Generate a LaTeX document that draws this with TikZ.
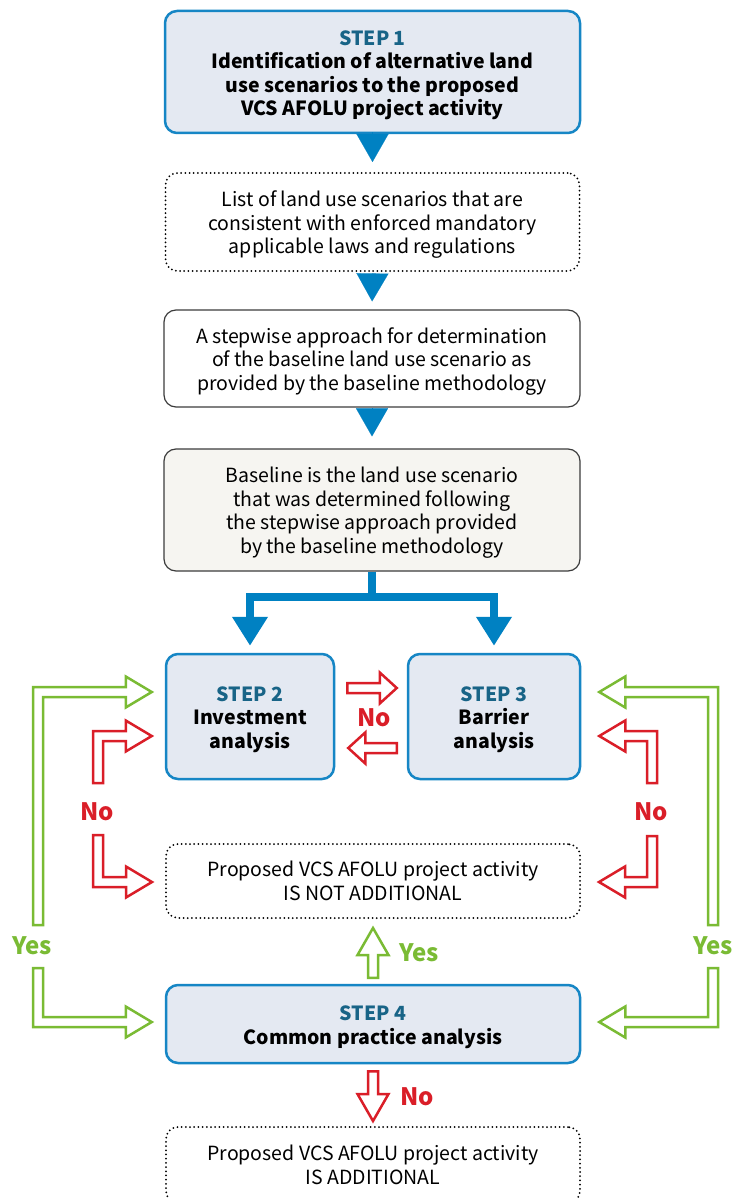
\documentclass[tikz,border=0pt]{standalone}
\usepackage{fontspec}
\setmainfont{Noto Sans CJK KR}
\usetikzlibrary{positioning,calc,arrows.meta}

\definecolor{stepblue}{RGB}{22,134,197}
\definecolor{stepfill}{RGB}{228,233,242}
\definecolor{steptitle}{RGB}{24,100,135}
\definecolor{flowblue}{RGB}{0,129,194}
\definecolor{noRed}{RGB}{218,30,40}
\definecolor{yesGreen}{RGB}{122,187,52}
\definecolor{baseFill}{RGB}{246,245,241}
\definecolor{boxGrey}{RGB}{60,60,60}

\newcommand{\bodyfont}{\fontsize{19.5}{23.5}\selectfont}
\newcommand{\labelfont}{\fontsize{24}{24}\selectfont\bfseries}
\newcommand{\ts}{\rule{0pt}{21pt}}

\tikzset{
    stepbox/.style={draw=stepblue, line width=2.5pt, fill=stepfill, rounded corners=12pt, inner sep=0pt, align=center, font=\bodyfont\bfseries},
    dotbox/.style={draw, line width=2pt, dash pattern=on 0pt off 4.2pt, line cap=round, rounded corners=12pt, inner sep=0pt, align=center, font=\bodyfont},
    plainbox/.style={draw=boxGrey, line width=1.2pt, rounded corners=12pt, inner sep=0pt, align=center, font=\bodyfont},
    flow/.style={draw=flowblue, line width=0.1pt, -{Triangle[length=28pt,width=32pt]}, shorten <=2pt},
    fork/.style={draw=flowblue, line width=8pt, -{Triangle[length=29pt,width=34pt]}, shorten >=7pt},
    hollow/.style={line width=2.5pt, fill=white, line join=miter},
    nolabel/.style={font=\labelfont, text=noRed},
    yeslabel/.style={font=\labelfont, text=yesGreen}
}

% straight hollow arrow: [head length]{colour}{start}{tip}
\newcommand{\hollowarrow}[4][26pt]{%
    \coordinate (ha) at (#3);
    \coordinate (hb) at (#4);
    \coordinate (hh) at ($(hb)!#1!(ha)$);
    \draw[hollow, draw=#2] ($(ha)!5pt!90:(hb)$) -- ($(hh)!5pt!90:(hb)$) -- ($(hh)!15.5pt!90:(hb)$) -- (hb)
        -- ($(hh)!15.5pt!-90:(hb)$) -- ($(hh)!5pt!-90:(hb)$) -- ($(ha)!5pt!-90:(hb)$) -- cycle;}

% bent hollow arrow: {colour}{start}{corner}{tip}
\newcommand{\hollowelbow}[4]{%
    \coordinate (ha) at (#2);
    \coordinate (hc) at (#3);
    \coordinate (hb) at (#4);
    \coordinate (hh) at ($(hb)!26pt!(hc)$);
    \coordinate (p1) at ($(hc)!5pt!-90:(ha)$);
    \coordinate (p2) at ($(hc)!5pt!90:(hb)$);
    \coordinate (q1) at ($(hc)!5pt!90:(ha)$);
    \coordinate (q2) at ($(hc)!5pt!-90:(hb)$);
    \draw[hollow, draw=#1] ($(ha)!5pt!90:(hc)$) -- ($(p1)+(p2)-(hc)$)
        -- ($(hh)!5pt!90:(hb)$) -- ($(hh)!15.5pt!90:(hb)$) -- (hb)
        -- ($(hh)!15.5pt!-90:(hb)$) -- ($(hh)!5pt!-90:(hb)$)
        -- ($(q1)+(q2)-(hc)$) -- ($(ha)!5pt!-90:(hc)$) -- cycle;}

\begin{document}
\begin{tikzpicture}[x=1pt, y=-1pt]
    \useasboundingbox (0,0) rectangle (732,1198);
    \fill[white] (0,0) rectangle (732,1198);

    % Step 1 and the baseline chain
    \node[stepbox, minimum width=415pt, minimum height=122pt] (s1) at (372.5,72)
        {\ts{\color{steptitle}STEP 1}\\Identification of alternative land\\use scenarios to the proposed\\VCS AFOLU project activity};
    \node[dotbox, minimum width=414pt, minimum height=98pt] (list) at (372.5,222)
        {\ts List of land use scenarios that are\\consistent with enforced mandatory\\applicable laws and regulations};
    \node[plainbox, fill=white, minimum width=416pt, minimum height=97pt] (approach) at (372,358.5)
        {\ts A stepwise approach for determination\\of the baseline land use scenario as\\provided by the baseline methodology};
    \node[plainbox, fill=baseFill, minimum width=416pt, minimum height=122pt] (baseline) at (372,510)
        {\ts Baseline is the land use scenario\\that was determined following\\the stepwise approach provided\\by the baseline methodology};

    \draw[flow, shorten >=10pt] (s1.south) -- (list.north);
    \draw[flow, shorten >=8pt] (list.south) -- (approach.north);
    \draw[flow, shorten >=12pt] (approach.south) -- (baseline.north);

    % Steps 2 and 3
    \node[stepbox, minimum width=168pt, minimum height=125pt] (s2) at (250,716.5)
        {\ts{\color{steptitle}STEP 2}\\Investment\\analysis};
    \node[stepbox, minimum width=172pt, minimum height=125pt] (s3) at (494,716.5)
        {\ts{\color{steptitle}STEP 3}\\Barrier\\analysis};

    \draw[fork] (baseline.south) -- ++(0,25) -| (s2.north);
    \draw[fork] (baseline.south) -- ++(0,25) -| (s3.north);

    % Outcome boxes and Step 4
    \node[dotbox, minimum width=414pt, minimum height=74pt] (notadd) at (373,881)
        {Proposed VCS AFOLU project activity\\IS NOT ADDITIONAL};
    \node[stepbox, minimum width=414pt, minimum height=78pt] (s4) at (373,1024)
        {\ts{\color{steptitle}STEP 4}\\Common practice analysis};
    \node[dotbox, minimum width=414pt, minimum height=76pt] (add) at (373,1165)
        {Proposed VCS AFOLU project activity\\IS ADDITIONAL};

    % between Step 2 and Step 3
    \coordinate (m1) at ($(s2.east)+(12,-28.5)$);
    \coordinate (m1t) at ($(s3.west)+(-10,-28.5)$);
    \coordinate (m2) at ($(s3.west)+(-10,31.5)$);
    \coordinate (m2t) at ($(s2.east)+(13,31.5)$);
    \hollowarrow[17pt]{noRed}{m1}{m1t}
    \hollowarrow[17pt]{noRed}{m2}{m2t}
    \node[nolabel] (noMid) at (374,718) {No};

    % left side
    \coordinate (gl1) at (38,925);
    \coordinate (gl1t) at ($(s2.west)+(-13,-24.5)$);
    \coordinate (gl2) at (38,968);
    \coordinate (gl2t) at ($(s4.west)+(-13,-2)$);
    \coordinate (rl1) at (98,783);
    \coordinate (rl1t) at ($(s2.west)+(-13,19.5)$);
    \coordinate (rl2) at (98,835);
    \coordinate (rl2t) at ($(notadd.west)+(-13,1)$);
    \hollowelbow{yesGreen}{gl1}{gl1 |- gl1t}{gl1t}
    \hollowelbow{yesGreen}{gl2}{gl2 |- gl2t}{gl2t}
    \hollowelbow{noRed}{rl1}{rl1 |- rl1t}{rl1t}
    \hollowelbow{noRed}{rl2}{rl2 |- rl2t}{rl2t}
    \node[nolabel] (noLeft) at (97,812) {No};
    \node[yeslabel] (yesLeft) at (32,946) {Yes};

    % right side
    \coordinate (gr1) at (713,925);
    \coordinate (gr1t) at ($(s3.east)+(18,-24.5)$);
    \coordinate (gr2) at (713,968);
    \coordinate (gr2t) at ($(s4.east)+(18,-2)$);
    \coordinate (rr1) at (652,783);
    \coordinate (rr1t) at ($(s3.east)+(18,19.5)$);
    \coordinate (rr2) at (652,836);
    \coordinate (rr2t) at ($(notadd.east)+(18,1)$);
    \hollowelbow{yesGreen}{gr1}{gr1 |- gr1t}{gr1t}
    \hollowelbow{yesGreen}{gr2}{gr2 |- gr2t}{gr2t}
    \hollowelbow{noRed}{rr1}{rr1 |- rr1t}{rr1t}
    \hollowelbow{noRed}{rr2}{rr2 |- rr2t}{rr2t}
    \node[nolabel] (noRight) at (651,812) {No};
    \node[yeslabel] (yesRight) at (713,946) {Yes};

    % Step 4 outcomes
    \coordinate (up) at ($(s4.north)+(0,-6)$);
    \coordinate (upt) at ($(notadd.south)+(0,9)$);
    \coordinate (down) at ($(s4.south)+(0,7)$);
    \coordinate (downt) at ($(add.north)+(0,-5)$);
    \hollowarrow[27pt]{yesGreen}{up}{upt}
    \hollowarrow[27pt]{noRed}{down}{downt}
    \node[yeslabel] (yesMid) at (419,953) {Yes};
    \node[nolabel] (noBottom) at (417,1097) {No};
\end{tikzpicture}
\end{document}
